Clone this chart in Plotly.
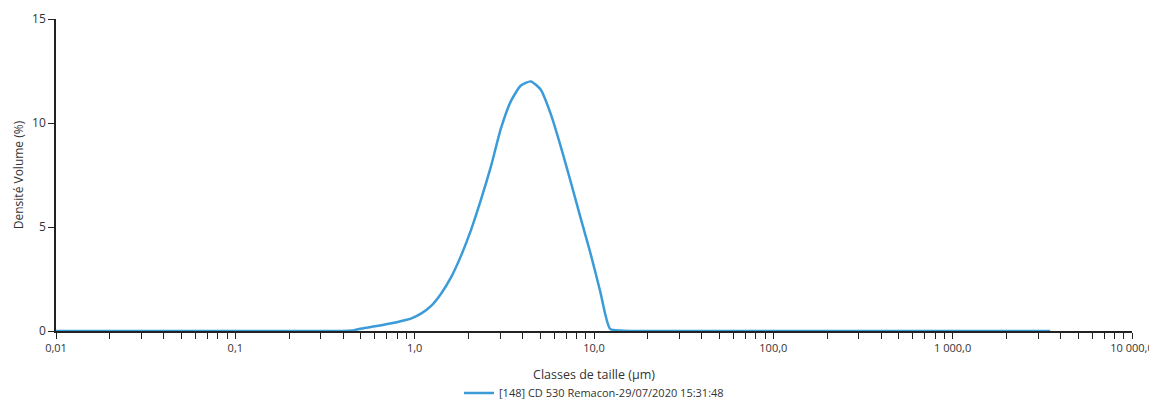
import plotly.graph_objects as go

# Size classes (µm) and volume density (%)
size_um = [0.01, 0.1, 0.3, 0.393, 0.446, 0.507, 0.576, 0.654, 0.743, 0.844, 0.959,
           1.09, 1.24, 1.40, 1.60, 1.81, 2.06, 2.34, 2.66, 3.03, 3.44, 3.91, 4.44,
           5.05, 5.73, 6.51, 7.40, 8.41, 9.55, 10.8, 12.3, 14.0, 15.9, 100.0, 1000.0, 3500.0]
density = [0.0, 0.0, 0.0, 0.0, 0.02, 0.12, 0.2, 0.28, 0.37, 0.48, 0.61,
           0.85, 1.22, 1.78, 2.6, 3.6, 4.85, 6.3, 7.9, 9.75, 11.05, 11.8, 12.0,
           11.6, 10.45, 8.9, 7.2, 5.45, 3.75, 1.95, 0.1, 0.02, 0.0, 0.0, 0.0, 0.0]

series_name = "[148] CD 530 Remacon-29/07/2020 15:31:48"
decades = [0.01, 0.1, 1, 10, 100, 1000, 10000]
decade_labels = ["0,01", "0,1", "1,0", "10,0", "100,0", "1 000,0", "10 000,0"]
y_ticks = [0, 5, 10, 15]

tickvals, ticktext = [], []
for d, lab in zip(decades, decade_labels):
    tickvals.append(d)
    ticktext.append(lab)
    if d < decades[-1]:
        for m in range(2, 10):
            tickvals.append(d * m)
            ticktext.append("")

fig = go.Figure()
fig.add_trace(go.Scatter(
    x=size_um, y=density, mode="lines", name=series_name,
    line=dict(color="#3B9BD8", width=2.5, shape="spline", smoothing=0.6),
    showlegend=True,
))

font_family = "Open Sans, Noto Sans, sans-serif"
fig.update_layout(
    width=1149, height=393,
    margin=dict(l=48, r=25, t=11, b=70, autoexpand=False),
    paper_bgcolor="white", plot_bgcolor="white",
    font=dict(family=font_family, size=12, color="#333333"),
    showlegend=True,
    legend=dict(orientation="h", x=0.5, xanchor="center", y=-0.199, yanchor="middle",
                font=dict(size=11, color="#333333"),
                bgcolor="rgba(0,0,0,0)"),
    xaxis=dict(
        type="log", range=[-2, 4], automargin=False,
        tickmode="array", tickvals=tickvals, ticktext=ticktext,
        ticks="outside", ticklen=6, tickwidth=1, tickcolor="#222222",
        showline=True, linecolor="#222222", linewidth=1.5,
        showgrid=False, zeroline=False,
        title=dict(text="Classes de taille (µm)", font=dict(size=12.5), standoff=16),
        tickfont=dict(size=11),
    ),
    yaxis=dict(
        range=[0, 15], tickvals=y_ticks, automargin=False,
        ticks="outside", ticklen=6, tickwidth=1, tickcolor="#222222",
        showline=True, linecolor="#222222", linewidth=1.5,
        showgrid=False, zeroline=False,
        title=dict(text="Densité Volume (%)", font=dict(size=12), standoff=6),
        tickfont=dict(size=12),
    ),
)

fig.write_html("out.html")
